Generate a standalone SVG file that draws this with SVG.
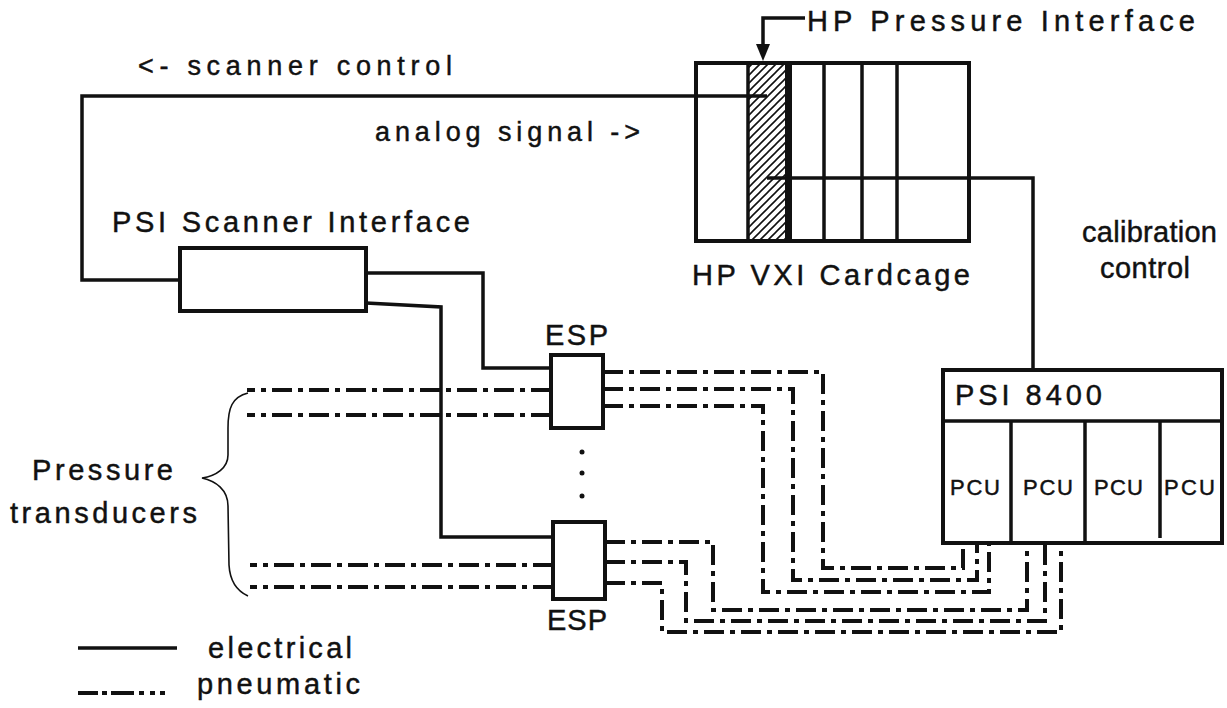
<svg xmlns="http://www.w3.org/2000/svg" width="1227" height="708" viewBox="0 0 1227 708">
<style>
  text { font-family: "Liberation Sans", Arial, Helvetica, sans-serif; fill: #111; stroke: #111; stroke-width: 0.45; }
  .lbl { font-size: 29px; }
  .sm { font-size: 27px; }
  .pcu { font-size: 22px; }
  .box { fill: #fff; stroke: #111; stroke-width: 4; }
  .frame { fill: none; stroke: #111; stroke-width: 4; }
  .div { stroke: #111; stroke-width: 3.5; fill: none; }
  .elec { stroke: #111; stroke-width: 3.5; fill: none; stroke-linejoin: miter; }
  .pneu { stroke: #111; stroke-width: 4; fill: none; stroke-dasharray: 20 6 5 6; }
</style>
<defs>
  <pattern id="hatch" patternUnits="userSpaceOnUse" width="8" height="8">
    <path d="M-2 2 L2 -2 M0 8 L8 0 M6 10 L10 6" stroke="#111" stroke-width="1.6"/>
  </pattern>
</defs>
<rect width="1227" height="708" fill="#fff"/>

<g id="connectors">
  <!-- scanner control / analog signal -->
  <path class="elec" d="M767 96 H82 V280 H180"/>
  <!-- calibration control -->
  <path class="elec" d="M767 178 H1033 V370"/>
  <!-- scanner interface to ESPs -->
  <path class="elec" d="M366 273 H483 V368 H551"/>
  <path class="elec" d="M366 303 L441 307 V537 H553"/>
  <!-- transducer inputs -->
  <path class="pneu" d="M551 390 H247"/>
  <path class="pneu" d="M551 415 H247"/>
  <path class="pneu" d="M553 565 H250"/>
  <path class="pneu" d="M553 587 H250"/>
  <!-- top ESP outputs -->
  <path class="pneu" d="M603 372 H823 V568 H963 V543"/>
  <path class="pneu" d="M603 389 H793 V580 H977 V543"/>
  <path class="pneu" d="M603 406 H763 V592 H989 V543"/>
  <!-- bottom ESP outputs -->
  <path class="pneu" d="M605 542 H713 V610 H1027 V543"/>
  <path class="pneu" d="M605 562 H686 V621 H1045 V543"/>
  <path class="pneu" d="M605 583 H662 V632 H1061 V543"/>
</g>

<g id="hp-vxi-cardcage">
  <rect x="749" y="65" width="37" height="174" fill="url(#hatch)"/>
  <rect class="frame" x="696" y="63" width="273" height="178"/>
  <line class="div" x1="748" y1="63" x2="748" y2="241"/>
  <line x1="788.5" y1="63" x2="788.5" y2="241" stroke="#111" stroke-width="7"/>
  <line class="div" x1="824" y1="63" x2="824" y2="241"/>
  <line class="div" x1="862" y1="63" x2="862" y2="241"/>
  <line class="div" x1="897" y1="63" x2="897" y2="241"/>
  <text class="lbl" x="692" y="285" textLength="278" lengthAdjust="spacing">HP VXI Cardcage</text>
</g>

<g id="hp-pressure-interface">
  <path d="M805 18 H763 V46" stroke="#111" stroke-width="3.5" fill="none"/>
  <polygon points="756,44 770,44 763,61" fill="#111"/>
  <text class="lbl" x="807" y="31" textLength="388" lengthAdjust="spacing">HP Pressure Interface</text>
</g>

<g id="labels">
  <text class="sm" x="138" y="75" textLength="314" lengthAdjust="spacing">&lt;- scanner control</text>
  <text class="sm" x="375" y="141" textLength="265" lengthAdjust="spacing">analog signal -&gt;</text>
  <text class="lbl" x="1082" y="242" textLength="135" lengthAdjust="spacing">calibration</text>
  <text class="lbl" x="1100" y="278" textLength="90" lengthAdjust="spacing">control</text>
</g>

<g id="psi-scanner-interface">
  <rect class="box" x="180" y="248" width="186" height="63"/>
  <text class="lbl" x="112" y="232" textLength="358" lengthAdjust="spacing">PSI Scanner Interface</text>
</g>

<g id="esp-top">
  <rect class="box" x="551" y="355" width="52" height="73"/>
  <text class="lbl" x="545" y="345" textLength="63" lengthAdjust="spacing">ESP</text>
</g>

<g id="esp-ellipsis">
  <circle cx="582" cy="452" r="2.5" fill="#111"/>
  <circle cx="582" cy="473" r="2.5" fill="#111"/>
  <circle cx="582" cy="496" r="2.5" fill="#111"/>
</g>

<g id="esp-bottom">
  <rect class="box" x="553" y="522" width="52" height="77"/>
  <text class="lbl" x="547" y="630" textLength="60" lengthAdjust="spacing">ESP</text>
</g>

<g id="psi-8400">
  <rect class="box" x="943" y="370" width="279" height="173"/>
  <line class="div" x1="943" y1="421" x2="1222" y2="421" stroke-width="4"/>
  <line class="div" x1="1011" y1="421" x2="1011" y2="543"/>
  <line class="div" x1="1085" y1="421" x2="1085" y2="543"/>
  <line class="div" x1="1160" y1="421" x2="1160" y2="538"/>
  <text class="lbl" x="955" y="405" textLength="147" lengthAdjust="spacing">PSI 8400</text>
  <text class="pcu" x="950" y="495" textLength="50" lengthAdjust="spacing">PCU</text>
  <text class="pcu" x="1023" y="495" textLength="50" lengthAdjust="spacing">PCU</text>
  <text class="pcu" x="1094" y="495" textLength="49" lengthAdjust="spacing">PCU</text>
  <text class="pcu" x="1164" y="495" textLength="51" lengthAdjust="spacing">PCU</text>
</g>

<g id="pressure-transducers">
  <path d="M248 393 C232 397 228 408 228 428 L228 455 C228 468 216 476 202 478 C216 481 228 490 228 506 L229 565 C230 582 237 591 248 596" stroke="#111" stroke-width="1.6" fill="none"/>
  <text class="lbl" x="32" y="480" textLength="141" lengthAdjust="spacing">Pressure</text>
  <text class="lbl" x="10" y="523" textLength="187" lengthAdjust="spacing">transducers</text>
</g>

<g id="legend">
  <line x1="78" y1="648" x2="177" y2="648" stroke="#111" stroke-width="3.5"/>
  <text class="lbl" x="208" y="658" textLength="144" lengthAdjust="spacing">electrical</text>
  <path d="M78 693 H98 M102 693 H107 M111 693 H134 M139 693 H144 M150 693 H155 M160 693 H165" stroke="#111" stroke-width="4" fill="none"/>
  <text class="lbl" x="197" y="694" textLength="163" lengthAdjust="spacing">pneumatic</text>
</g>
</svg>
